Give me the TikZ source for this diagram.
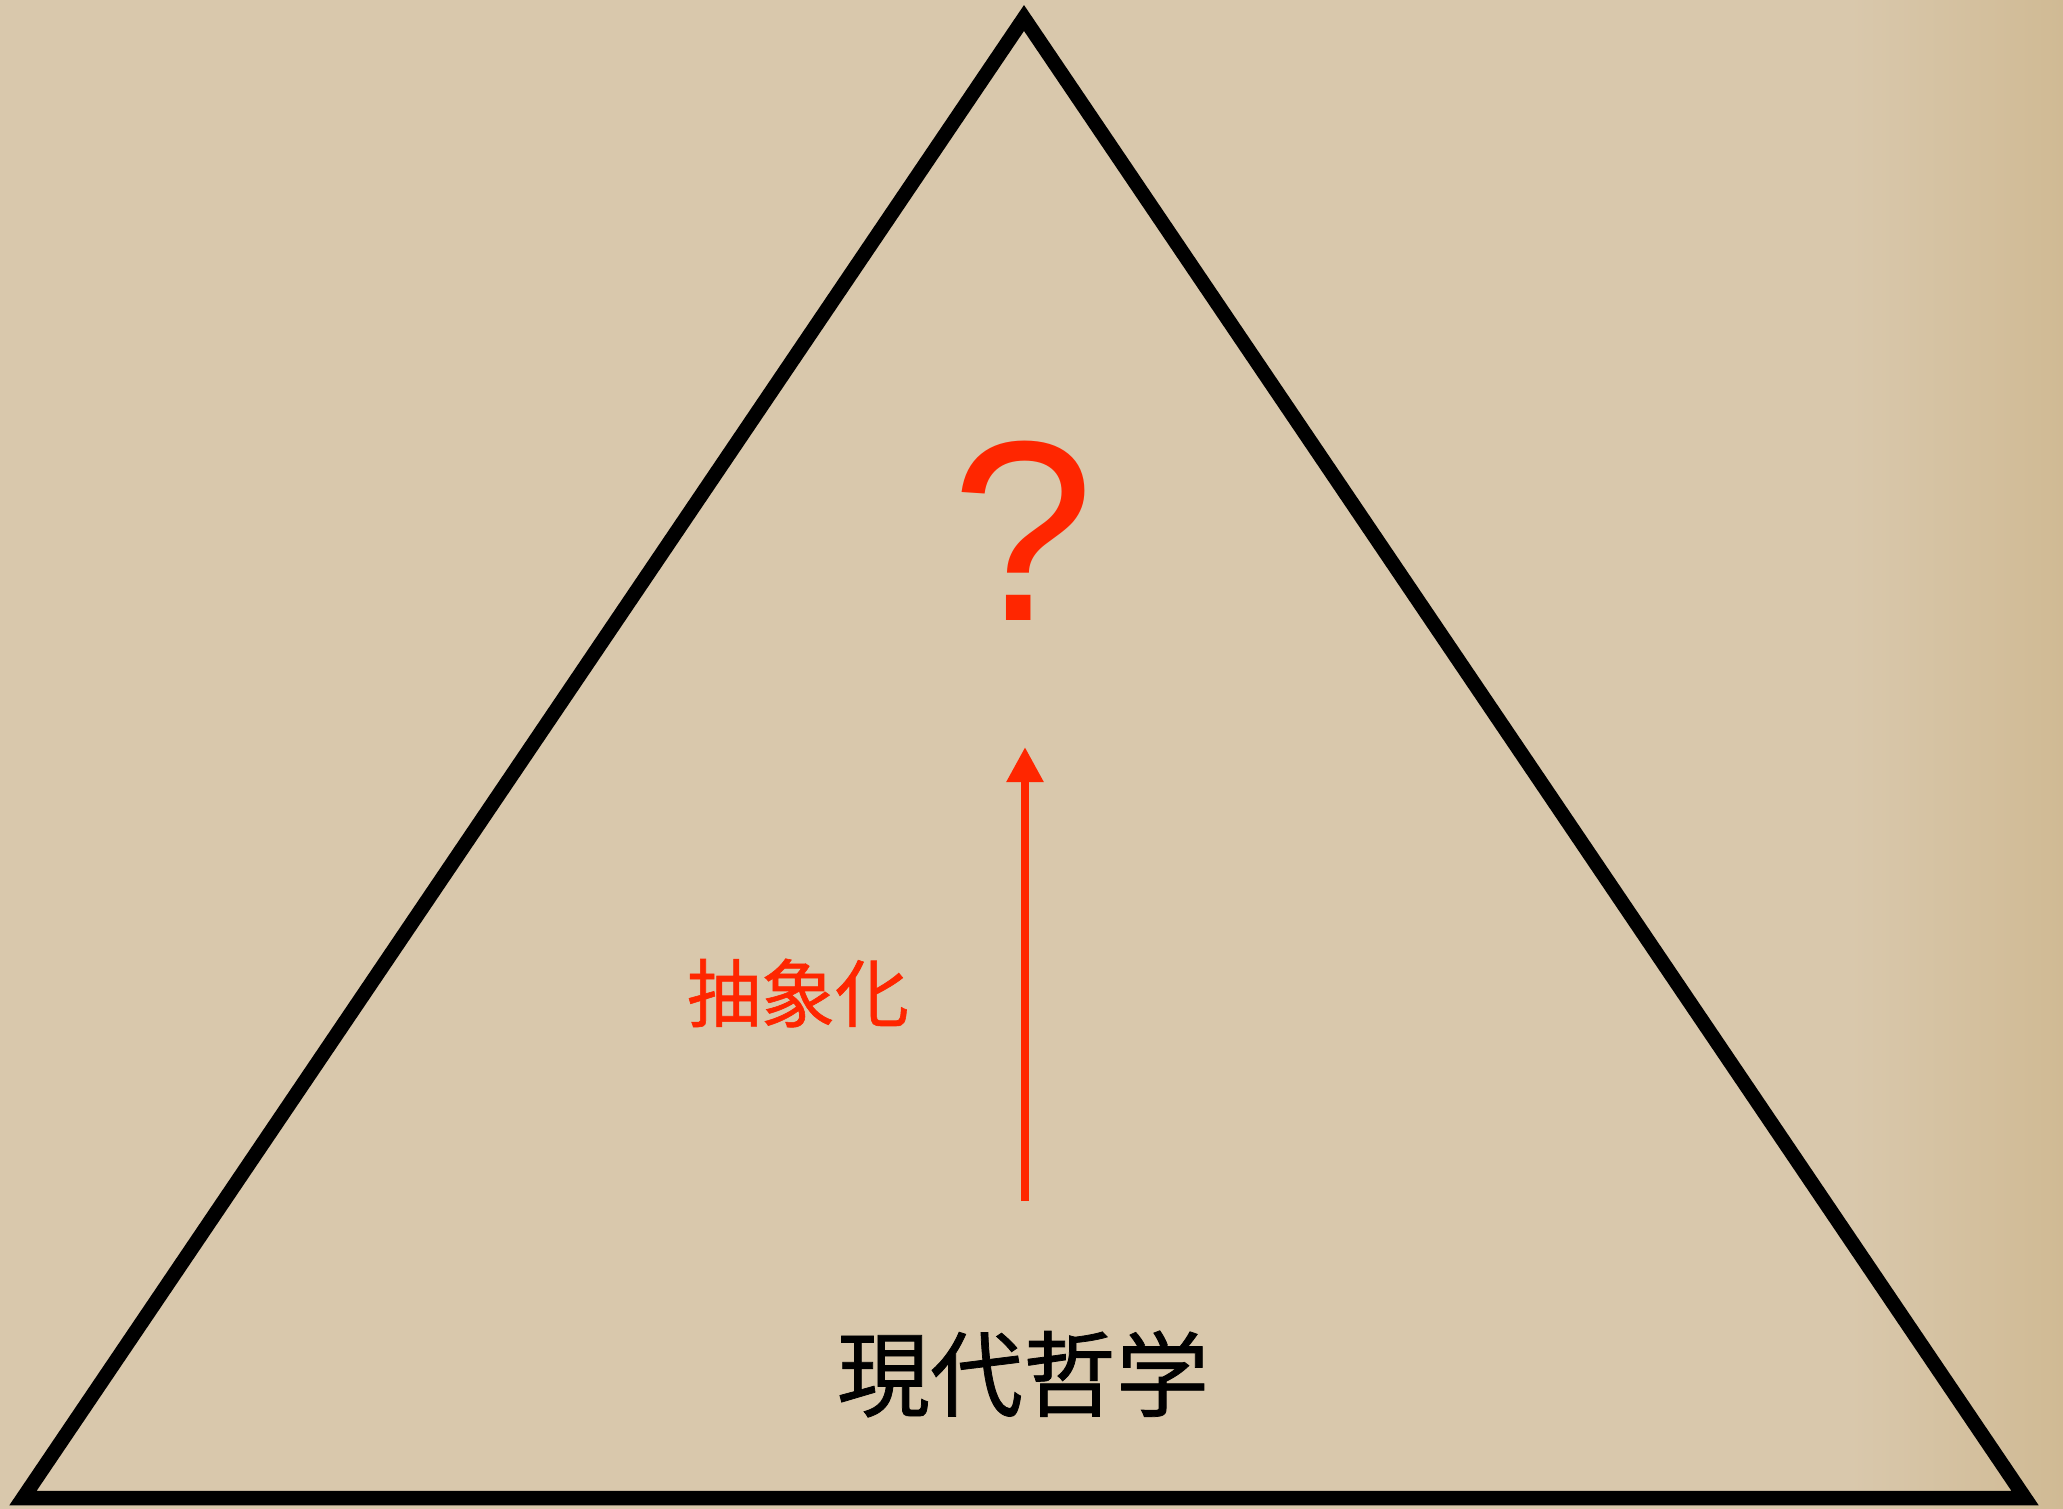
\documentclass[tikz,border=0pt]{standalone}
\usepackage{fontspec}
\newfontfamily\cjk[FakeBold=0.8]{Noto Sans CJK JP}
\newfontfamily\qfont{Liberation Sans}
\usetikzlibrary{arrows.meta}
\definecolor{paper}{RGB}{217,200,172}
\definecolor{paperdark}{RGB}{208,186,148}
\definecolor{accent}{RGB}{255,38,0}
\tikzset{
  tri/.style={draw=black, line width=14.5pt, line join=miter},
  redarrow/.style={draw=accent, line width=8.5pt, -{Triangle[length=35pt,width=35pt]}},
  qlabel/.style={text=accent, inner sep=0pt, font=\qfont\fontsize{257}{260}\selectfont},
  redlabel/.style={text=accent, inner sep=0pt, font=\cjk\fontsize{74}{80}\selectfont},
  blacklabel/.style={text=black, inner sep=0pt, font=\cjk\fontsize{93}{100}\selectfont},
}
\begin{document}
\begin{tikzpicture}[x=1pt,y=-1pt]
\useasboundingbox (0,0) rectangle (2063,1509);
\fill[paper] (0,0) rectangle (2063,1509);
\shade[left color=paper, right color=paperdark] (1850,0) rectangle (2063,1509);
\coordinate (apex) at (1024,18);
\coordinate (bl) at (23,1498);
\coordinate (br) at (2025,1498);
\draw[tri] (apex) -- (bl) -- (br) -- cycle;
\node[qlabel] (q) at (1023,531) {?};
\coordinate (astart) at (1025,1201);
\coordinate (aend) at (1025,747);
\draw[redarrow] (astart) -- (aend);
\node[redlabel] (abs) at (798,993) {抽象化};
\node[blacklabel] (modern) at (1023,1374) {現代哲学};
\end{tikzpicture}
\end{document}
